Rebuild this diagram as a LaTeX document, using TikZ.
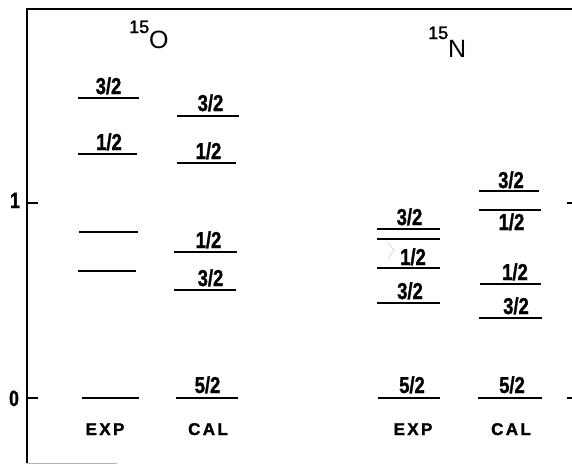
\documentclass[tikz,border=0pt]{standalone}
\usepackage{graphicx}
\usepackage{fontspec}
\setmainfont{Liberation Sans}
\newfontfamily\labfont[FakeBold=1.5]{Liberation Sans}
\newfontfamily\spacedfont[LetterSpace=14,FakeBold=1.5]{Liberation Sans}
\newcommand{\cond}[1]{\scalebox{0.8}[1]{#1}}
\begin{document}
\begin{tikzpicture}[x=1pt,y=-1pt,
  level/.style={line width=2.8pt},
  frame/.style={line width=2.2pt},
  jlab/.style={font=\labfont\fontsize{23}{23}\selectfont\bfseries, inner sep=0pt, anchor=base},
  axlab/.style={font=\labfont\fontsize{22}{22}\selectfont\bfseries, inner sep=0pt, anchor=base},
  collab/.style={font=\spacedfont\fontsize{17}{17}\selectfont\bfseries, inner sep=0pt, anchor=base},
  mass/.style={font=\labfont\fontsize{18}{18}\selectfont, inner sep=0pt, anchor=base west},
  elem/.style={font=\fontsize{25}{25}\selectfont, inner sep=0pt, anchor=base west}]
\useasboundingbox (0,0) rectangle (572,464);
% frame
\coordinate (tl) at (27,9);
\coordinate (tr) at (572,9);
\coordinate (bl) at (27,463);
\draw[frame] (tr) -- (tl) -- (bl);
\coordinate (bb) at (117,463);
\draw[gray!60, line width=1pt] (bl) -- (bb);
% left ticks
\coordinate (t1a) at (27,203); \coordinate (t1b) at (38,203);
\coordinate (t0a) at (27,398); \coordinate (t0b) at (38,398);
\draw[frame] (t1a) -- (t1b);
\draw[frame] (t0a) -- (t0b);
\node[axlab] (ax1) at (15,208) {\cond{1}};
\node[axlab] (ax0) at (14,406) {\cond{0}};
% right ticks
\coordinate (r1a) at (567,203); \coordinate (r1b) at (572,203);
\coordinate (r0a) at (567,398); \coordinate (r0b) at (572,398);
\draw[frame] (r1a) -- (r1b);
\draw[frame] (r0a) -- (r0b);
% titles
\node[mass] (om) at (129,33) {15};
\node[elem] (oe) at (149,48) {O};
\node[mass] (nm) at (428,39) {15};
\node[elem] (ne) at (448,57) {N};
% 15O EXP
\draw[level] (78,98) -- (139,98);
\node[jlab] (oe1) at (108.5,94) {\cond{3/2}};
\draw[level] (78,154) -- (137,154);
\node[jlab] (oe2) at (109,150) {\cond{1/2}};
\draw[level] (79,232) -- (138,232);
\draw[level] (78,271) -- (136,271);
\draw[level] (82,398) -- (139,398);
% 15O CAL
\draw[level] (177,116) -- (239,116);
\node[jlab] (oc1) at (210.5,111) {\cond{3/2}};
\draw[level] (177,163) -- (236,163);
\node[jlab] (oc2) at (208.5,159) {\cond{1/2}};
\draw[level] (174,252) -- (237,252);
\node[jlab] (oc3) at (208.5,248) {\cond{1/2}};
\draw[level] (174,290) -- (236,290);
\node[jlab] (oc4) at (210.5,286) {\cond{3/2}};
\draw[level] (176,398) -- (238,398);
\node[jlab] (oc5) at (207.5,393) {\cond{5/2}};
% 15N EXP
\draw[level] (377,229) -- (440,229);
\node[jlab] (ne1) at (409.5,225) {\cond{3/2}};
\draw[level] (377,239) -- (440,239);
\draw[level] (377,268) -- (440,268);
\node[jlab] (ne2) at (413,265) {\cond{1/2}};
\draw[gray!45, line width=0.5pt] (388,243) -- (394,250) -- (388,259);
\draw[level] (377,303) -- (440,303);
\node[jlab] (ne3) at (410,299) {\cond{3/2}};
\draw[level] (378,398) -- (440,398);
\node[jlab] (ne4) at (412,393) {\cond{5/2}};
% 15N CAL
\draw[level] (479,191) -- (539,191);
\node[jlab] (nc1) at (511,188) {\cond{3/2}};
\draw[level] (479,210) -- (541,210);
\node[jlab] (nc2) at (511.5,230) {\cond{1/2}};
\draw[level] (480,284) -- (541,284);
\node[jlab] (nc3) at (515,280) {\cond{1/2}};
\draw[level] (479,318) -- (542,318);
\node[jlab] (nc4) at (516,314) {\cond{3/2}};
\draw[level] (478,398) -- (542,398);
\node[jlab] (nc5) at (512,393) {\cond{5/2}};
% column labels
\node[collab] (l1) at (105,435) {EXP};
\node[collab] (l2) at (208,435) {CAL};
\node[collab] (l3) at (413,435) {EXP};
\node[collab] (l4) at (511,435) {CAL};
\end{tikzpicture}
\end{document}
